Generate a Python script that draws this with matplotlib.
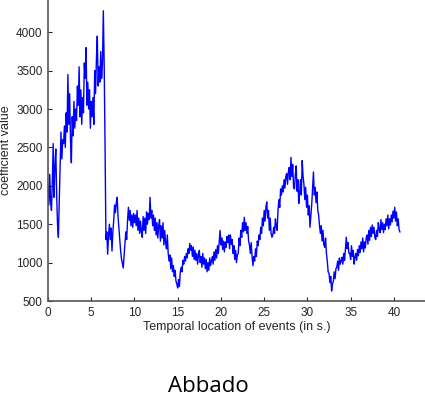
import matplotlib
matplotlib.use("Agg")
import matplotlib.pyplot as plt
import numpy as np

# coefficient values, one per 0.1 s
coef = [
    2000, 1750, 2150, 1800, 1680, 2050, 2550, 1850, 2250, 2480,
    1900, 1500, 1330, 1800, 2300, 2700, 2350, 2600, 2550, 2780,
    2500, 2950, 2700, 3450, 2800, 3200, 2600, 2300, 2900, 2650,
    3100, 2750, 3000, 2850, 3300, 3050, 3550, 2900, 3250, 2800,
    3150, 2950, 3600, 3400, 3800, 3050, 3350, 3000, 3250, 2750,
    3100, 2900, 3150, 2800, 3500, 3200, 3650, 3950, 3300, 3550,
    3350, 3750, 3400, 3600, 4280, 3550, 2500, 1300, 1400, 1110,
    1350, 1500, 1300, 1450, 1150, 1400, 1550, 1750, 1650, 1780,
    1850, 1600, 1450, 1300, 1150, 1050, 990, 930, 1100, 1250,
    1400, 1300, 1550, 1720, 1550, 1680, 1480, 1620, 1460, 1640,
    1520, 1620, 1480, 1680, 1420, 1580, 1380, 1540, 1400, 1330,
    1600, 1420, 1580, 1380, 1660, 1500, 1640, 1560, 1850, 1580,
    1680, 1480, 1620, 1420, 1580, 1360, 1520, 1320, 1480, 1560,
    1280, 1480, 1320, 1520, 1230, 1420, 1260, 1180, 1360, 1120,
    1020, 1100, 920, 1060, 880, 960, 820, 900, 760, 720,
    670, 780, 690, 880, 940, 880, 1030, 980, 1080, 1020,
    1120, 1060, 1180, 1120, 1250, 1160, 1220, 1080, 1200, 1040,
    1160, 1030, 1120, 980, 1100, 1160, 1000, 1080, 940, 1120,
    980, 1060, 920, 1040, 880, 1000, 900, 1060, 960, 1020,
    1080, 980, 1140, 1030, 1170, 1060, 1220, 1120, 1280, 1420,
    1230, 1320, 1170, 1280, 1140, 1270, 1200, 1340, 1260, 1360,
    1180, 1360, 1240, 1300, 1120, 1220, 1040, 1160, 1000, 1100,
    1120, 1320, 1220, 1420, 1330, 1520, 1400, 1590, 1420, 1520,
    1380, 1470, 1280, 1230, 1120, 1260, 1080, 960, 1080, 1020,
    1180, 1080, 1280, 1220, 1360, 1300, 1460, 1380, 1580, 1480,
    1680, 1540, 1720, 1790, 1580, 1680, 1420, 1580, 1380, 1330,
    1360, 1460, 1380, 1570, 1470, 1420, 1680, 1820, 1720, 1960,
    1880, 2000, 1920, 2080, 1970, 2120, 2160, 2020, 2180, 2240,
    2080, 2370, 2120, 2280, 1980, 1960, 2140, 2260, 1930, 2080,
    1770, 1900, 2080, 1880, 2330, 2120, 2020, 1820, 1980, 1720,
    1880, 1620, 1740, 1460, 1620, 1760, 1980, 2180, 1880, 1980,
    1780, 1920, 1680, 1620, 1480, 1380, 1480, 1280, 1420, 1230,
    1200, 1320, 1120, 1020, 880, 860, 740, 820, 630, 720,
    760, 880, 790, 920, 940, 1020, 900, 1060, 980, 1020,
    1070, 980, 1120, 1030, 1180, 1330, 1180, 1260, 1120, 1120,
    1040, 1220, 1080, 1160, 980, 1070, 1120, 1030, 1170, 1090,
    1220, 1130, 1270, 1180, 1320, 1140, 1270, 1190, 1320, 1360,
    1240, 1420, 1290, 1460, 1340, 1490, 1380, 1460, 1330, 1300,
    1420, 1340, 1520, 1430, 1390, 1560, 1430, 1520, 1390, 1500,
    1430, 1570, 1480, 1620, 1440, 1570, 1490, 1620, 1530, 1670,
    1580, 1720, 1540, 1660, 1480, 1570, 1430, 1400,
]
t = np.arange(len(coef)) * 0.1

xticks = [0, 5, 10, 15, 20, 25, 30, 35, 40]
yticks = [500, 1000, 1500, 2000, 2500, 3000, 3500, 4000]

plt.rcParams['font.family'] = ['Liberation Sans', 'DejaVu Sans']

fig = plt.figure(figsize=(4.25, 3.99), dpi=100)
ax = fig.add_axes([48 / 425, 98 / 399, 377 / 425, 301 / 399])
ax.plot(t, coef, color='#0000ff', lw=1.0)

ax.set_xlim(0, 43.6)
ax.set_ylim(500, 4420)
ax.set_xticks(xticks)
ax.set_yticks(yticks)
ax.tick_params(direction='in', length=3, labelsize=8.5, colors='#262626', pad=4)
for s in ['top', 'right']:
    ax.spines[s].set_visible(False)
for s in ['left', 'bottom']:
    ax.spines[s].set_color('#555555')
    ax.spines[s].set_linewidth(1.2)

ax.set_xlabel('Temporal location of events (in s.)', fontsize=9, color='#262626', labelpad=2)
ax.set_ylabel('coefficient value', fontsize=9, color='#262626', labelpad=3)

fig.text(0.49, 0.018, 'Abbado', family='Open Sans', fontsize=16, ha='center', va='baseline')

fig.savefig('out.png', dpi=100)
